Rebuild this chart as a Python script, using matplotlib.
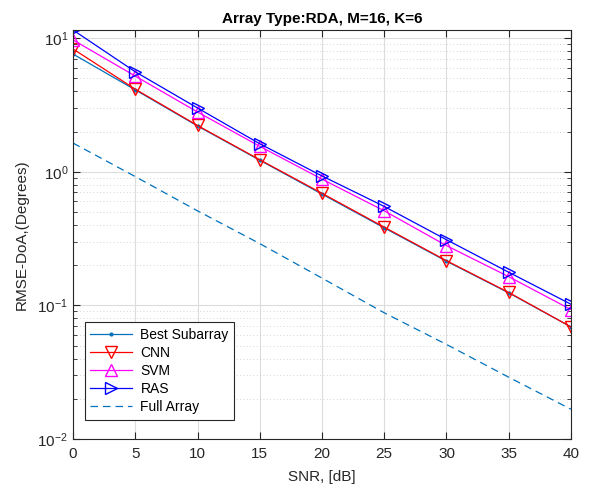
import numpy as np
import matplotlib
matplotlib.use("Agg")
import matplotlib.pyplot as plt
from matplotlib.ticker import LogLocator, NullFormatter

plt.rcParams["font.family"] = ["Liberation Sans", "DejaVu Sans"]
plt.rcParams["mathtext.fontset"] = "custom"
plt.rcParams["mathtext.rm"] = "Liberation Sans"

snr = [0, 5, 10, 15, 20, 25, 30, 35, 40]
best_subarray = [7.6, 4.1, 2.2, 1.22, 0.68, 0.38, 0.214, 0.124, 0.069]
cnn = [8.3, 4.15, 2.22, 1.23, 0.69, 0.385, 0.216, 0.125, 0.069]
svm = [9.7, 5.2, 2.8, 1.55, 0.88, 0.51, 0.28, 0.164, 0.093]
ras = [11.5, 5.6, 3.0, 1.62, 0.93, 0.55, 0.31, 0.177, 0.102]
full_array = [1.64, 0.92, 0.51, 0.29, 0.16, 0.088, 0.051, 0.029, 0.0167]

blue = "#0072BD"
dark = "#262626"

fig = plt.figure(figsize=(6.1, 4.88), dpi=100)
ax = fig.add_axes([0.1197, 0.1004, 0.8163, 0.8381])

ax.plot(snr, best_subarray, color=blue, lw=0.9, marker=".", ms=4,
        label="Best Subarray")
ax.plot(snr, cnn, color="red", lw=0.9, marker="v", ms=8, mfc="none",
        label="CNN")
ax.plot(snr, svm, color="magenta", lw=0.9, marker="^", ms=8, mfc="none",
        label="SVM")
ax.plot(snr, ras, color="blue", lw=0.9, marker=">", ms=8, mfc="none",
        label="RAS")
ax.plot(snr, full_array, color=blue, lw=0.9, ls=(0, (6, 4)),
        label="Full Array")

ax.set_yscale("log")
ax.set_xlim(0, 40)
ax.set_ylim(1e-2, 11.5)
ax.set_xticks(range(0, 41, 5))
ax.yaxis.set_major_locator(LogLocator(base=10, numticks=10))
ax.yaxis.set_minor_locator(LogLocator(base=10, subs=np.arange(2, 10), numticks=20))
ax.yaxis.set_minor_formatter(NullFormatter())

ax.grid(True, which="major", color="#dcdcdc", lw=0.8)
ax.grid(True, which="minor", axis="y", color="#c8c8c8", lw=0.6, ls=(0, (1, 3)))
ax.set_axisbelow(True)

ax.tick_params(which="both", direction="in", top=True, right=True,
               colors=dark, labelsize=11, labelcolor=dark)
ax.tick_params(which="major", length=5)
ax.tick_params(which="minor", length=3)
ax.tick_params(axis="x", pad=6)
for s in ax.spines.values():
    s.set_color(dark)
    s.set_linewidth(0.8)

ax.set_title("Array Type:RDA, M=16, K=6", fontsize=11, fontweight="bold",
             color="black", pad=5)
ax.set_xlabel("SNR, [dB]", fontsize=11, color=dark, labelpad=6)
ax.set_ylabel("RMSE-DoA,(Degrees)", fontsize=11, color=dark, labelpad=6)

leg = ax.legend(loc="lower left", fontsize=10, frameon=True, fancybox=False,
                borderpad=0.4, handlelength=3.0, handletextpad=0.6,
                labelspacing=0.3, bbox_to_anchor=(0.01, 0.03))
leg.get_frame().set_edgecolor(dark)
leg.get_frame().set_linewidth(0.8)
leg.get_frame().set_alpha(1)

fig.savefig("out.png", dpi=100)
